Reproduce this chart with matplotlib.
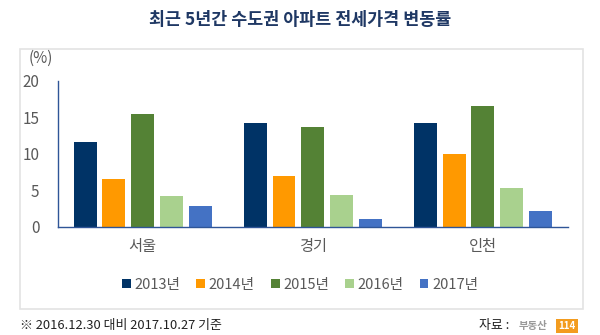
import numpy as np
import matplotlib.pyplot as plt
from matplotlib.patches import Rectangle

plt.rcParams['font.family'] = ['Noto Sans CJK KR', 'DejaVu Sans']

regions = ['서울', '경기', '인천']
years = ['2013년', '2014년', '2015년', '2016년', '2017년']
colors = ['#003366', '#FF9900', '#548235', '#A9D18E', '#4472C4']

# change rate (%) per year, one list per region order above
rate_2013 = [11.6, 14.2, 14.2]
rate_2014 = [6.6, 6.9, 10.0]
rate_2015 = [15.5, 13.6, 16.6]
rate_2016 = [4.2, 4.3, 5.3]
rate_2017 = [2.8, 1.0, 2.1]
series = [rate_2013, rate_2014, rate_2015, rate_2016, rate_2017]

fig = plt.figure(figsize=(6, 3.35), dpi=100)

# light grey frame around the chart body
frame = Rectangle((20 / 600, 1 - 309 / 335), 563 / 600, 260 / 335,
                  transform=fig.transFigure, fill=False, ec='#e3e3e3', lw=1.2)
fig.patches.append(frame)

ax = fig.add_axes([57.5 / 600, 1 - 226.7 / 335, 510.5 / 600, 146 / 335])

x = np.arange(len(regions))
pitch = 0.169
width = 0.135
for i, (vals, c, lab) in enumerate(zip(series, colors, years)):
    ax.bar(x + (i - 2) * pitch, vals, width, color=c, label=lab)

ax.set_xlim(-0.5, 2.5)
ax.set_ylim(0, 20)
ax.set_yticks([0, 5, 10, 15, 20])
ax.set_xticks(x)
ax.set_xticklabels(regions)
ax.tick_params(axis='both', length=0, colors='#595959', labelsize=11)
ax.tick_params(axis='x', pad=8)
ax.tick_params(axis='y', pad=13)
for s in ['top', 'right']:
    ax.spines[s].set_visible(False)
for s in ['left', 'bottom']:
    ax.spines[s].set_color('#2f5597')
    ax.spines[s].set_linewidth(1.0)

fig.text(29 / 600, 1 - 58 / 335, '(%)', fontsize=11, color='#595959', va='center')

fig.text(0.5, 1 - 20 / 335, '최근 5년간 수도권 아파트 전세가격 변동률', ha='center', va='center',
         fontsize=12.5, fontweight='bold', color='#1f3864')

leg = fig.legend(loc='center', bbox_to_anchor=(0.5, 1 - 285 / 335), ncol=5, frameon=False,
                 fontsize=10.5, handlelength=0.6, handleheight=0.6, handletextpad=0.25,
                 columnspacing=1.1)
for t in leg.get_texts():
    t.set_color('#595959')

fig.text(20 / 600, 1 - 326 / 335, '※ 2016.12.30 대비 2017.10.27 기준', fontsize=9.3,
         color='#222222', va='center')
fig.text(479 / 600, 1 - 326 / 335, '자료 :', fontsize=9.3, color='#222222', va='center')
fig.text(519 / 600, 1 - 326 / 335, '부동산', fontsize=7.5, color='#999999', va='center',
         fontweight='bold')
fig.text(567 / 600, 1 - 326 / 335, '114', fontsize=7, color='white', va='center',
         ha='center', fontweight='bold',
         bbox=dict(boxstyle='square,pad=0.2', fc='#f39c1f', ec='none'))

fig.savefig('out.png', dpi=100)
